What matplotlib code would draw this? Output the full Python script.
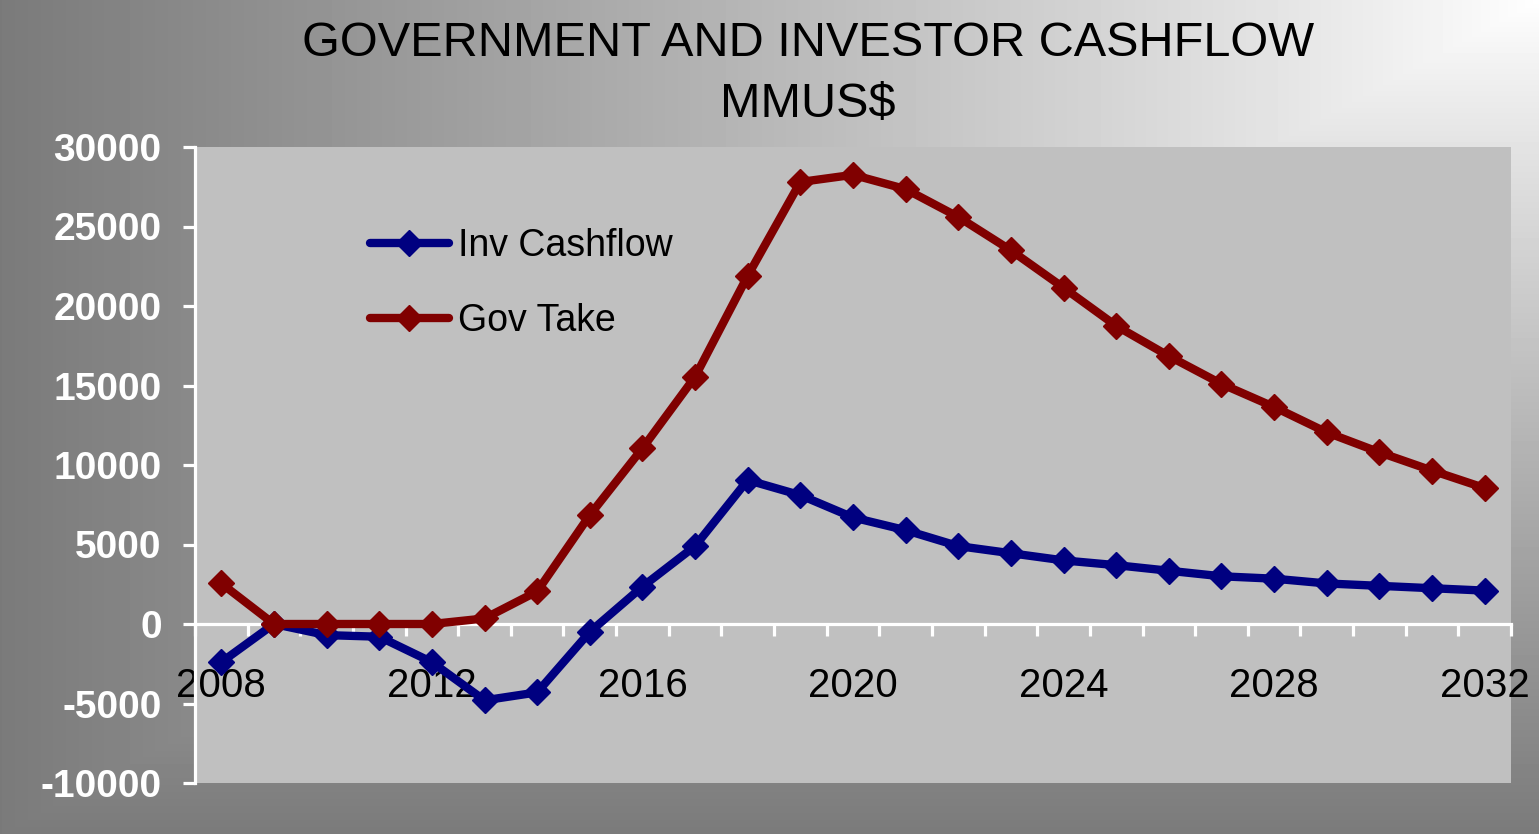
import numpy as np
import matplotlib
matplotlib.use("Agg")
import matplotlib.pyplot as plt

plt.rcParams['font.family'] = ['Liberation Sans', 'DejaVu Sans']

years = list(range(2008, 2033))
inv_cashflow = [-2400, 0, -700, -800, -2400, -4800, -4300, -500, 2350, 4900,
                9050, 8100, 6700, 5900, 4900, 4450, 4000, 3700, 3350, 3000,
                2850, 2550, 2400, 2250, 2100]
gov_take = [2550, 0, 0, 0, 0, 350, 2050, 6850, 11050, 15550,
            21900, 27800, 28250, 27350, 25600, 23500, 21150, 18750, 16850, 15100,
            13650, 12050, 10800, 9650, 8550]
major_years = [2008, 2012, 2016, 2020, 2024, 2028, 2032]
y_ticks = [-10000, -5000, 0, 5000, 10000, 15000, 20000, 25000, 30000]

W, H = 1539, 834
fig = plt.figure(figsize=(W / 100, H / 100), dpi=100)

# background gradient, light at the top-right corner
bg = fig.add_axes([0, 0, 1, 1], zorder=0)
xx, yy = np.meshgrid(np.arange(W), np.arange(H))
t = np.maximum((W - xx) / W, yy / H)
dark = 0.48
shade = 1 - t ** 0.9 * (1 - dark)
bg.imshow(shade, cmap="gray", vmin=0, vmax=1, aspect="auto", interpolation="bilinear")
bg.axis("off")

ax = fig.add_axes([195 / W, 1 - 783 / H, (1511 - 195) / W, (783 - 147) / H], zorder=1)
ax.set_facecolor("#c0c0c0")

ax.plot(years, inv_cashflow, color="#000080", lw=6, marker="D", ms=13,
        label="Inv Cashflow", solid_capstyle="round", zorder=3)
ax.plot(years, gov_take, color="#800000", lw=6, marker="D", ms=13,
        label="Gov Take", solid_capstyle="round", zorder=3)

ax.set_xlim(2007.5, 2032.5)
ax.set_ylim(-10000, 30000)

ax.spines["top"].set_visible(False)
ax.spines["right"].set_visible(False)
ax.spines["left"].set_color("white")
ax.spines["left"].set_linewidth(2.3)
ax.spines["bottom"].set_color("white")
ax.spines["bottom"].set_linewidth(2.3)
ax.spines["bottom"].set_position(("data", 0))

ax.set_yticks(y_ticks)
ax.set_yticklabels([str(v) for v in y_ticks])
ax.tick_params(axis="y", direction="out", length=9, width=2.3, color="white",
               labelcolor="white", labelsize=28, pad=15)
for lab in ax.get_yticklabels():
    lab.set_fontweight("bold")

ax.set_xticks(major_years)
ax.set_xticklabels([str(y) for y in major_years])
ax.set_xticks(np.arange(2007.5, 2033, 1.0), minor=True)
ax.tick_params(axis="x", which="major", length=0, labelsize=29, labelcolor="black", pad=31)
ax.tick_params(axis="x", which="minor", direction="out", length=8.5, width=2.3, color="white")

fig.text(0.525, 1 - 43 / H, "GOVERNMENT AND INVESTOR CASHFLOW", ha="center", va="center",
         fontsize=35, color="black")
fig.text(0.525, 1 - 104 / H, "MMUS$", ha="center", va="center", fontsize=35, color="black")

ax.legend(loc="upper left", bbox_to_anchor=(370 / W, 1 - 228 / H),
          bbox_transform=fig.transFigure, frameon=False, fontsize=27,
          handlelength=2.1, handletextpad=0.25, labelspacing=1.05,
          borderpad=0, borderaxespad=0)

plt.savefig("out.png", dpi=100)
